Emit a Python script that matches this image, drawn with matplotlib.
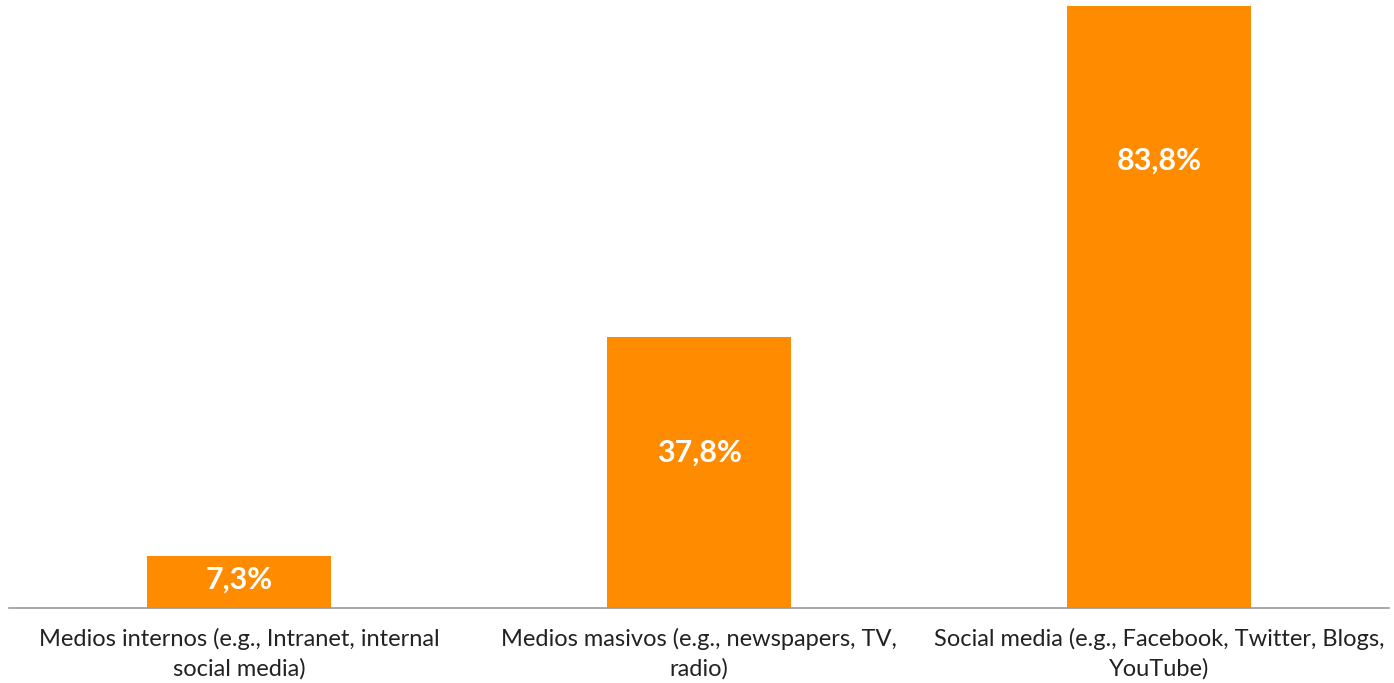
import matplotlib
matplotlib.use("Agg")
import matplotlib.pyplot as plt

categories = [
    "Medios internos (e.g., Intranet, internal\nsocial media)",
    "Medios masivos (e.g., newspapers, TV,\nradio)",
    "Social media (e.g., Facebook, Twitter, Blogs,\nYouTube)",
]
values = [7.3, 37.8, 83.8]
value_labels = ["7,3%", "37,8%", "83,8%"]
label_heights = [3.9, 21.7, 62.3]

plt.rcParams["font.family"] = ["Lato", "DejaVu Sans"]

fig = plt.figure(figsize=(13.94, 6.83), dpi=100)
ax = fig.add_axes([9 / 1394, (683 - 608) / 683, 1380 / 1394, 608 / 683])

x = range(len(values))
ax.bar(x, values, width=0.4, color="#FF8C00")
ax.set_xlim(-0.5, len(values) - 0.5)
ax.set_ylim(0, 84.7)

for xi, h, txt in zip(x, label_heights, value_labels):
    ax.text(xi, h, txt, ha="center", va="center", color="white",
            fontsize=22, fontweight="bold")

ax.set_xticks(list(x))
ax.set_xticklabels(categories, fontsize=17, color="#222222", linespacing=1.5)
ax.tick_params(axis="x", length=0, pad=14)
ax.set_yticks([])
for side in ("left", "right", "top"):
    ax.spines[side].set_visible(False)
ax.spines["bottom"].set_color("#999999")
ax.spines["bottom"].set_linewidth(1.2)

fig.savefig("out.png", dpi=100, facecolor="white")
